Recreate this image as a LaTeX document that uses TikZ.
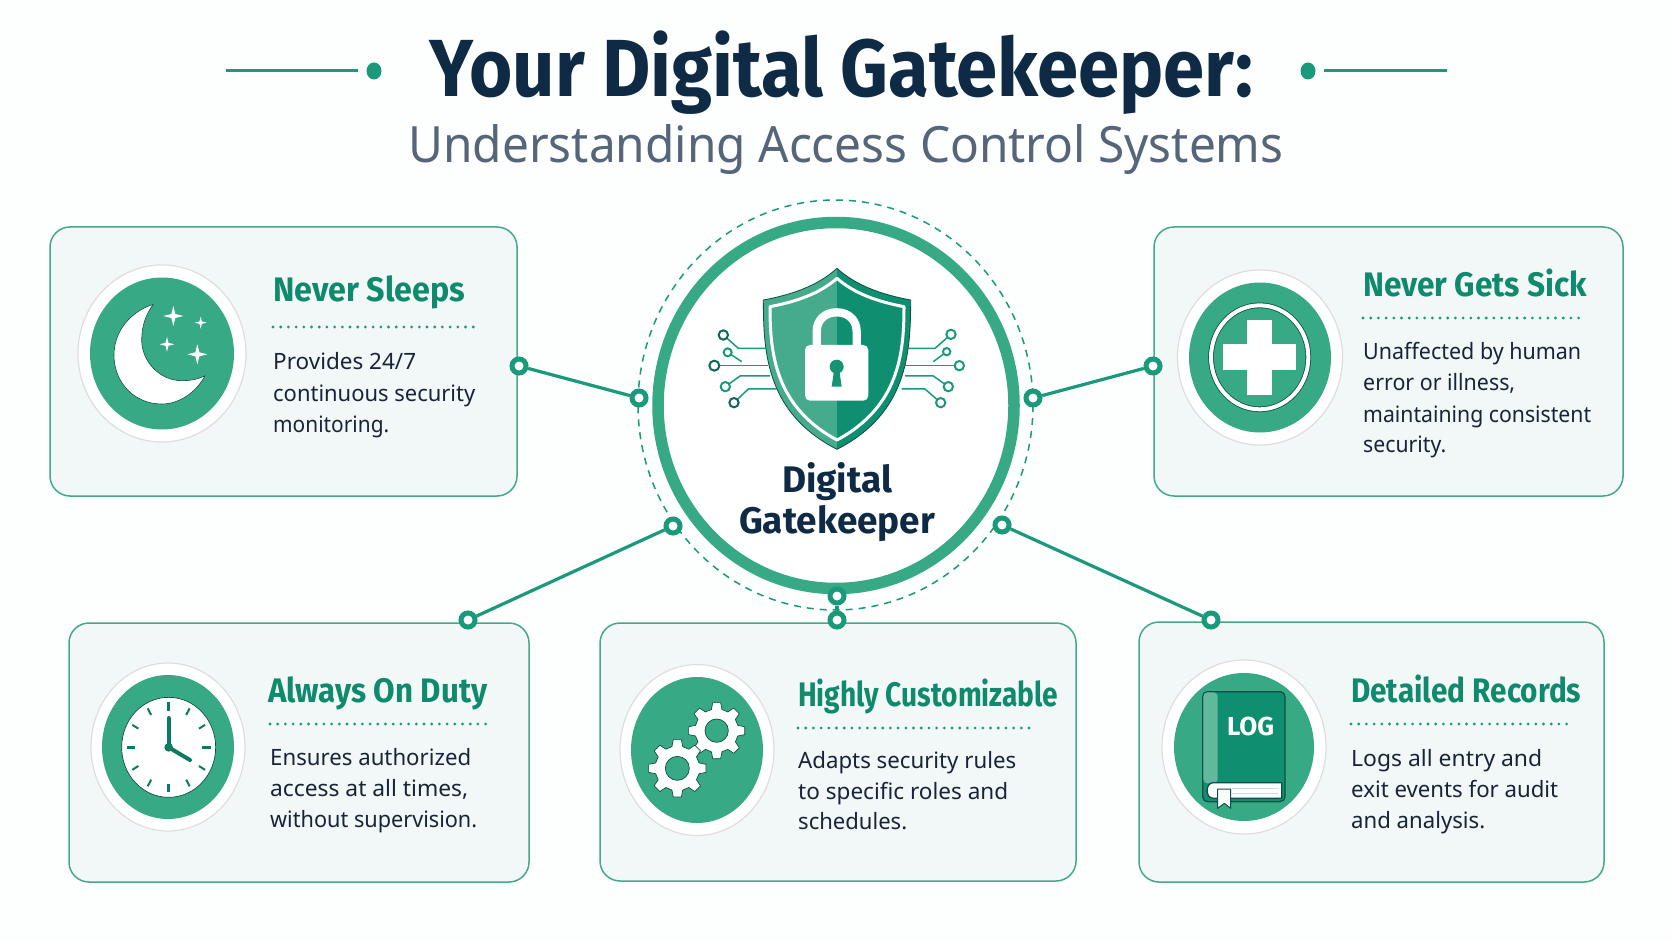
\documentclass[tikz,border=0pt]{standalone}
\usepackage{fontspec}
\usepackage{graphicx}
\setmainfont{Noto Sans}
\newfontfamily\hfont{Fira Sans}
\usetikzlibrary{shapes.geometric}
\definecolor{bgc}{HTML}{FDFEFE}
\definecolor{ringc}{HTML}{38A985}
\definecolor{linkc}{HTML}{1A9A7A}
\definecolor{cardf}{HTML}{F2F8F7}
\definecolor{cardb}{HTML}{45A88C}
\definecolor{ttlc}{HTML}{0F8A6C}
\definecolor{bodyc}{HTML}{1A2438}
\definecolor{navy}{HTML}{0F2A44}
\definecolor{slate}{HTML}{56657A}
\definecolor{deep}{HTML}{0F8F70}
\definecolor{lite}{HTML}{46AB8C}
\definecolor{darkl}{HTML}{0C4F45}
\definecolor{shad}{HTML}{DDDFDE}
\definecolor{tick}{HTML}{0F7A63}
\newcommand{\wtxt}[2]{\resizebox{#1pt}{\height}{#2}}
\newcommand{\bline}[5]{\node[bodyt] (#1) at (#2,#3) {\wtxt{#4}{#5}};}
\newcommand{\tline}[5]{\node[ttlt] (#1) at (#2,#3) {\wtxt{#4}{#5}};}
\newcommand{\iconbase}[7]{%
  \node[iconout,minimum width=#4pt,minimum height=#5pt] (#1o) at (#2,#3) {};
  \node[icongreen,minimum width=#6pt,minimum height=#7pt] (#1g) at (#2,#3) {};}
\newcommand{\fstar}[3]{\fill[white] (#1,#2-#3)--(#1+.2*#3,#2-.2*#3)--(#1+#3,#2)--(#1+.2*#3,#2+.2*#3)--(#1,#2+#3)--(#1-.2*#3,#2+.2*#3)--(#1-#3,#2)--(#1-.2*#3,#2-.2*#3)--cycle;}
\newcommand{\gearshape}[4]{%
  \begin{scope}[shift={(#1,#2)}]
  \pgfmathsetmacro\gri{.77*#3}
  \draw[fill=white,draw=darkl,line width=.7pt,line join=round] (76:\gri)
    \foreach \a in {90,135,...,405}{ -- ({\a-14}:\gri) -- ({\a-8}:#3) -- ({\a+8}:#3) -- ({\a+14}:\gri)} -- cycle;
  \draw[fill=ringc,draw=darkl,line width=.7pt] (0,0) ellipse [x radius=#4,y radius=#4];
  \end{scope}}
\tikzset{
  cardbox/.style={draw=cardb,fill=cardf,line width=1.5pt,rounded corners=20pt,inner sep=0pt},
  iconout/.style={ellipse,draw=shad,fill=white,line width=1.2pt,inner sep=0pt},
  icongreen/.style={ellipse,fill=ringc,inner sep=0pt},
  linkdot/.style={circle,draw=linkc,fill=white,line width=5pt,minimum size=14pt,inner sep=0pt},
  linkline/.style={draw=linkc,line width=3.2pt},
  bodyt/.style={anchor=base west,inner sep=0pt,text=bodyc,font=\fontsize{22.5}{22.5}\selectfont},
  ttlt/.style={anchor=base west,inner sep=0pt,text=ttlc,font=\hfont\bfseries\fontsize{34}{34}\selectfont},
  dotrule/.style={draw=linkc,line width=3.1pt,line cap=round,dash pattern=on 0pt off 7.7pt},
  circuit/.style={draw=linkc,line width=1.5pt,line join=round},
  circdot/.style={draw=linkc,fill=white,line width=2pt},
  zoomed/.style 2 args={shift={(#1,#2)},x=.33333pt,y=-.33333pt}
}
\begin{document}
\begin{tikzpicture}[x=1pt,y=-1pt]
\fill[bgc] (0,0) rectangle (1672,941);
\useasboundingbox (0,0) rectangle (1672,941);

% heading
\node[anchor=base,inner sep=0pt,text=navy,font=\hfont\bfseries\fontsize{81}{81}\selectfont] (head) at (841.5,97) {\wtxt{823}{Your Digital Gatekeeper:}};
\node[anchor=base,inner sep=0pt,text=slate,font=\fontsize{50}{50}\selectfont] (sub) at (846,163) {\wtxt{875}{Understanding Access Control Systems}};
\node[ellipse,fill=linkc,minimum width=15pt,minimum height=17pt,inner sep=0pt] (hl) at (374,71) {};
\node[ellipse,fill=linkc,minimum width=15pt,minimum height=17pt,inner sep=0pt] (hr) at (1308,71) {};
\coordinate (hla) at (226,71);
\coordinate (hlb) at (358,71);
\coordinate (hra) at (1324,71);
\coordinate (hrb) at (1447,71);
\draw[draw=linkc,line width=3pt] (hla) -- (hlb);
\draw[draw=linkc,line width=3pt] (hra) -- (hrb);

% cards
\node[cardbox,minimum width=467pt,minimum height=269pt] (cardA) at (283.5,361.5) {};
\node[cardbox,minimum width=469pt,minimum height=269pt] (cardB) at (1388.5,361.5) {};
\node[cardbox,minimum width=460pt,minimum height=259pt] (cardC) at (299,752.5) {};
\node[cardbox,minimum width=476pt,minimum height=258pt] (cardD) at (838,752) {};
\node[cardbox,minimum width=465pt,minimum height=260pt] (cardE) at (1371.5,752) {};

% hub
\node[ellipse,draw=ringc,fill=white,line width=11.5pt,minimum width=356pt,minimum height=366pt,inner sep=0pt] (hub) at (836,405.5) {};
\draw[draw=linkc,line width=1.5pt,dash pattern=on 7pt off 6pt] (835.5,405) ellipse [x radius=197.5,y radius=205];

% connector dots
\node[linkdot] (hA) at (639,398) {};
\node[linkdot] (hB) at (1033,398) {};
\node[linkdot] (hC) at (673,526) {};
\node[linkdot] (hE) at (1002,525) {};
\node[linkdot] (hD) at (837,596) {};
\node[linkdot] (pA) at (519,366) {};
\node[linkdot] (pB) at (1153,366) {};
\node[linkdot] (pC) at (468,620) {};
\node[linkdot] (pE) at (1211,620) {};
\node[linkdot] (pD) at (837,620) {};
\draw[linkline] (hA) -- (pA);
\draw[linkline] (hB) -- (pB);
\draw[linkline] (hC) -- (pC);
\draw[linkline] (hE) -- (pE);
\draw[linkline] (hD) -- (pD);

% shield
\begin{scope}[zoomed={620}{180}]
  % circuits
  \draw[circuit] (310,465) -- (355,505) -- (437,505);
  \draw[circuit] (323,517) -- (365,545);
  \draw[circuit] (283,557) -- (445,557);
  \draw[circuit] (316,620) -- (360,588) -- (450,588);
  \draw[circuit] (342,668) -- (385,627) -- (470,627);
  \draw[circuit] (993,463) -- (945,505) -- (865,505);
  \draw[circuit] (980,515) -- (940,545);
  \draw[circuit] (1018,557) -- (855,557);
  \draw[circuit] (985,620) -- (940,588) -- (855,588);
  \draw[circuit] (962,668) -- (915,627) -- (845,627);
  \draw[circdot,draw=darkl!70!linkc] (310,465) circle [radius=14];
  \draw[circdot] (323,517) circle [radius=12];
  \draw[circdot,draw=darkl!70!linkc] (283,557) circle [radius=15];
  \draw[circdot] (316,620) circle [radius=14];
  \draw[circdot,draw=darkl!70!linkc] (342,668) circle [radius=14];
  \draw[circdot] (993,463) circle [radius=14];
  \draw[circdot] (980,515) circle [radius=11];
  \draw[circdot] (1018,557) circle [radius=14];
  \draw[circdot] (985,620) circle [radius=14];
  \draw[circdot] (962,668) circle [radius=14];
  % body
  \fill[lite] (651,265) .. controls (590,320) and (510,345) .. (430,360) .. controls (430,520) and (440,700) .. (651,808) -- cycle;
  \fill[deep] (651,265) .. controls (712,320) and (792,345) .. (872,360) .. controls (872,520) and (862,700) .. (651,808) -- cycle;
  \draw[draw=darkl,line width=.8pt,line join=round] (651,265) .. controls (590,320) and (510,345) .. (430,360) .. controls (430,520) and (440,700) .. (651,808) .. controls (862,700) and (872,520) .. (872,360) .. controls (792,345) and (712,320) .. (651,265) -- cycle;
  \draw[white,line width=3pt,line join=round] (651,295) .. controls (600,340) and (530,365) .. (450,380) .. controls (450,520) and (465,680) .. (651,780) .. controls (837,680) and (852,520) .. (852,380) .. controls (772,365) and (702,340) .. (651,295) -- cycle;
  % lock
  \draw[white,line width=8.3pt] (590,500) -- (590,455) .. controls (590,420) and (615,397) .. (650,397) .. controls (685,397) and (710,420) .. (710,455) -- (710,500);
  \fill[white,rounded corners=5pt] (555,495) rectangle (745,662);
  \fill[deep!85!lite] (650,560) circle [radius=21];
  \fill[deep!85!lite] (643,565) -- (657,565) -- (665,620) -- (635,620) -- cycle;
\end{scope}
\node[anchor=base,inner sep=0pt,text=navy,font=\hfont\bfseries\fontsize{37}{37}\selectfont] (hubA) at (837,492) {\wtxt{110}{Digital}};
\node[anchor=base,inner sep=0pt,text=navy,font=\hfont\bfseries\fontsize{37}{37}\selectfont] (hubB) at (837,533) {\wtxt{196}{Gatekeeper}};

% card A
\iconbase{iA}{162}{353.5}{168}{177}{144}{152}
\begin{scope}[zoomed={40}{215}]
  \draw[fill=white,draw=darkl,line width=.6pt,line join=round] (340,268) .. controls (270,290) and (222,350) .. (222,420) .. controls (222,505) and (285,567) .. (365,567) .. controls (420,567) and (470,530) .. (495,482) .. controls (470,495) and (445,497) .. (425,497) .. controls (360,497) and (305,440) .. (305,375) .. controls (305,330) and (320,295) .. (340,268) -- cycle;
  \fstar{400}{303}{30}
  \fstar{482}{323}{18}
  \fstar{381}{388}{22}
  \fstar{472}{418}{30}
\end{scope}
\tline{tA}{273}{301}{192}{Never Sleeps}
\coordinate (rAa) at (273,327);
\coordinate (rAb) at (477,327);
\draw[dotrule] (rAa) -- (rAb);
\bline{bA1}{273}{369}{143}{Provides 24/7}
\bline{bA2}{273}{401}{202}{continuous security}
\bline{bA3}{273}{432}{116}{monitoring.}

% card B
\iconbase{iB}{1260}{357.5}{165}{175}{142}{150}
\begin{scope}[zoomed={1140}{215}]
  \draw[draw=darkl,line width=5.6pt] (359,427) ellipse [x radius=146,y radius=156];
  \draw[draw=white,line width=4pt] (359,427) ellipse [x radius=146,y radius=156];
  \fill[white] (322,315) rectangle (396,540);
  \fill[white] (250,387) rectangle (468,465);
\end{scope}
\tline{tB}{1363}{296}{224}{Never Gets Sick}
\coordinate (rBa) at (1363,318);
\coordinate (rBb) at (1585,318);
\draw[dotrule] (rBa) -- (rBb);
\bline{bB1}{1363}{359}{218}{Unaffected by human}
\bline{bB2}{1363}{390}{152}{error or illness,}
\bline{bB3}{1363}{422}{228}{maintaining consistent}
\bline{bB4}{1363}{452}{83}{security.}

% card C
\iconbase{iC}{168}{747}{154}{168}{132}{144}
\begin{scope}[zoomed={60}{610}]
  \draw[fill=white,draw=darkl,line width=.7pt] (326,412) ellipse [x radius=141,y radius=150];
  \foreach \a in {0,90,180,270}{
    \draw[draw=tick,line width=2.8pt] ({326+101*cos(\a)},{412+110*sin(\a)}) -- ({326+126*cos(\a)},{412+135*sin(\a)});}
  \foreach \a in {30,60,120,150,210,240,300,330}{
    \draw[draw=tick,line width=2pt] ({326+105*cos(\a)},{412+112*sin(\a)}) -- ({326+126*cos(\a)},{412+135*sin(\a)});}
  \draw[draw=tick,line width=4pt,line cap=round] (326,412) -- (326,324);
  \draw[draw=tick,line width=4pt,line cap=round] (326,412) -- (390,450);
  \fill[tick] (326,412) circle [radius=13];
\end{scope}
\tline{tC}{268}{702}{219}{Always On Duty}
\coordinate (rCa) at (270,724);
\coordinate (rCb) at (490,724);
\draw[dotrule] (rCa) -- (rCb);
\bline{bC1}{270}{765}{201}{Ensures authorized}
\bline{bC2}{270}{796}{198}{access at all times,}
\bline{bC3}{270}{827}{207}{without supervision.}

% card D
\iconbase{iD}{697}{750}{154}{171}{132}{146}
\begin{scope}[zoomed={590}{610}]
  \gearshape{380}{362}{85}{35}
  \gearshape{262}{475}{87}{36}
\end{scope}
\tline{tD}{798}{706}{260}{Highly Customizable}
\coordinate (rDa) at (798,728);
\coordinate (rDb) at (1032,728);
\draw[dotrule] (rDa) -- (rDb);
\bline{bD1}{798}{768}{218}{Adapts security rules}
\bline{bD2}{798}{799}{210}{to specific roles and}
\bline{bD3}{798}{829}{109}{schedules.}

% card E
\iconbase{iE}{1244}{747}{164}{174}{140}{148}
\begin{scope}[zoomed={1130}{610}]
  \draw[fill=deep,draw=darkl,line width=1.3pt,rounded corners=5pt] (218,245) rectangle (465,575);
  \draw[fill=lite!85!white,draw=none,rounded corners=4pt] (220,247) rectangle (263,520);
  \draw[fill=white,draw=darkl,line width=1.3pt,line join=round] (455,518) -- (250,518) .. controls (225,518) and (225,565) .. (250,565) -- (455,565) -- cycle;
  \draw[draw=lite!35!white,line width=.8pt] (305,535) -- (445,535);
  \draw[draw=lite!35!white,line width=.8pt] (305,550) -- (445,550);
  \draw[fill=white,draw=darkl,line width=1pt,line join=round] (263,537) -- (302,537) -- (302,595) -- (283,580) -- (263,595) -- cycle;
\end{scope}
\node[anchor=base,inner sep=0pt,text=white,font=\hfont\bfseries\fontsize{26}{26}\selectfont] (logt) at (1250.5,735) {\wtxt{47}{LOG}};
\tline{tE}{1351}{702}{230}{Detailed Records}
\coordinate (rEa) at (1351,724);
\coordinate (rEb) at (1568,724);
\draw[dotrule] (rEa) -- (rEb);
\bline{bE1}{1351}{766}{191}{Logs all entry and}
\bline{bE2}{1351}{797}{207}{exit events for audit}
\bline{bE3}{1351}{828}{134}{and analysis.}
\end{tikzpicture}
\end{document}
